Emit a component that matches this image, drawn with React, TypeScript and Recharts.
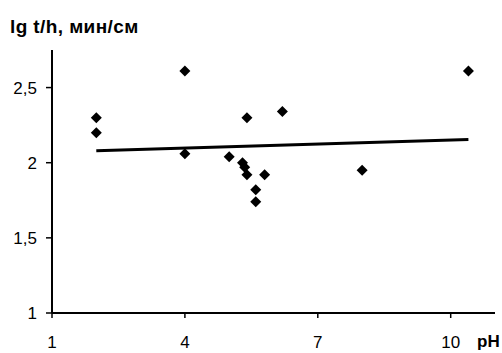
import { Scatter, ScatterChart, XAxis, YAxis } from "recharts";

const phValues = [2, 2, 4, 4, 5, 5.3, 5.35, 5.4, 5.4, 5.6, 5.6, 5.8, 6.2, 8, 10.4];
const lgValues = [2.3, 2.2, 2.61, 2.06, 2.04, 2.0, 1.97, 1.92, 2.3, 1.82, 1.74, 1.92, 2.34, 1.95, 2.61];

const trendPh = [2, 10.4];
const trendLg = [2.08, 2.155];

const xTicks = [1, 4, 7, 10];
const yTicks = [1, 1.5, 2, 2.5];

const points = phValues.map((x, i) => ({ x, y: lgValues[i] }));
const trend = trendPh.map((x, i) => ({ x, y: trendLg[i] }));

const FONT = "'Liberation Sans', Arial, sans-serif";
const tickStyle = { fill: "#000", fontSize: 17, fontFamily: FONT };

function Diamond(props: any) {
  const { cx, cy } = props;
  const r = 5.5;
  return (
    <polygon
      points={`${cx},${cy - r} ${cx + r},${cy} ${cx},${cy + r} ${cx - r},${cy}`}
      fill="#000"
    />
  );
}

const fmt = (v: number) => String(v).replace(".", ",");

export default function App() {
  return (
    <div style={{ position: "absolute", left: 0, top: 0, width: 502, height: 353, background: "#fff" }}>
      <ScatterChart width={502} height={353} margin={{ top: 50, right: 7, bottom: 0, left: 0 }}>
        <XAxis
          type="number"
          dataKey="x"
          domain={[1, 11]}
          ticks={xTicks}
          tick={tickStyle}
          tickSize={5}
          tickMargin={18}
          height={40}
          axisLine={{ stroke: "#000", strokeWidth: 2 }}
          tickLine={{ stroke: "#000", strokeWidth: 1.5 }}
          allowDataOverflow
        />
        <YAxis
          type="number"
          dataKey="y"
          domain={[1, 2.75]}
          ticks={yTicks}
          tickFormatter={fmt}
          tick={tickStyle}
          tickSize={6}
          tickMargin={9}
          width={52}
          axisLine={{ stroke: "#000", strokeWidth: 2 }}
          tickLine={{ stroke: "#000", strokeWidth: 1.5 }}
          allowDataOverflow
        />
        <Scatter
          data={trend}
          line={{ stroke: "#000", strokeWidth: 3 }}
          shape={() => <g />}
          isAnimationActive={false}
        />
        <Scatter data={points} shape={Diamond} isAnimationActive={false} />
      </ScatterChart>
      <div
        style={{
          position: "absolute",
          left: 10,
          top: 16,
          fontFamily: FONT,
          fontWeight: "bold",
          fontSize: 19,
          letterSpacing: 0.4,
          color: "#000",
          whiteSpace: "nowrap",
        }}
      >
        lg t/h, мин/см
      </div>
      <div
        style={{
          position: "absolute",
          left: 477,
          top: 332,
          fontFamily: FONT,
          fontWeight: "bold",
          fontSize: 17,
          color: "#000",
        }}
      >
        pH
      </div>
    </div>
  );
}
